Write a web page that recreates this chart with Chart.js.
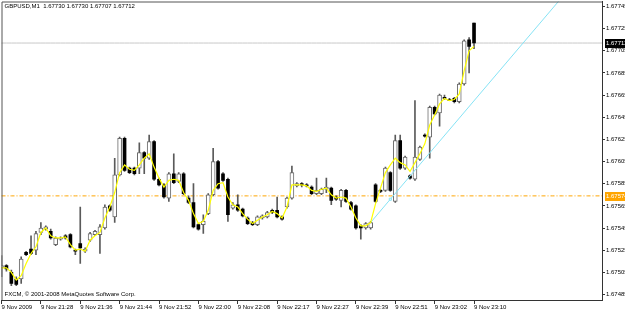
<!DOCTYPE html>
<html>
<head>
<meta charset="utf-8">
<script src="https://cdn.jsdelivr.net/npm/chart.js@4.4.0/dist/chart.umd.min.js"></script>
<style>
    html, body { margin: 0; padding: 0; background: #fff; }
    #wrap { width: 625px; height: 311px; position: relative; }
</style>
</head>
<body>
<div id="wrap"><canvas id="gbpChart"></canvas></div>
<script>
// GBPUSD M1 candles (oldest first)
const opens = [
    1.67509, 1.67511, 1.67505, 1.67499, 1.67499, 1.67523, 1.67526, 1.67525, 1.67541, 1.67544,
    1.67542, 1.67530, 1.67535, 1.67538, 1.67539, 1.67525, 1.67531, 1.67524, 1.67534, 1.67539,
    1.67539, 1.67545, 1.67565, 1.67555, 1.67593, 1.67626, 1.67599, 1.67599, 1.67599, 1.67613,
    1.67608, 1.67623, 1.67589, 1.67584, 1.67572, 1.67594, 1.67587, 1.67594, 1.67572, 1.67568,
    1.67548, 1.67548, 1.67558, 1.67575, 1.67605, 1.67594, 1.67589, 1.67563, 1.67566, 1.67562,
    1.67554, 1.67550, 1.67548, 1.67554, 1.67555, 1.67561, 1.67561, 1.67555, 1.67564, 1.67572,
    1.67583, 1.67585, 1.67584, 1.67582, 1.67576, 1.67576, 1.67580, 1.67581, 1.67573, 1.67570,
    1.67579, 1.67568, 1.67565, 1.67547, 1.67545, 1.67545, 1.67584, 1.67579, 1.67579, 1.67595,
    1.67569, 1.67624, 1.67599, 1.67592, 1.67589, 1.67607, 1.67629, 1.67627, 1.67654, 1.67649,
    1.67663, 1.67661, 1.67662, 1.67659, 1.67675, 1.67715, 1.67730
];
const highs = [
    1.67520, 1.67512, 1.67507, 1.67501, 1.67519, 1.67524, 1.67538, 1.67542, 1.67550, 1.67547,
    1.67544, 1.67537, 1.67537, 1.67539, 1.67540, 1.67526, 1.67564, 1.67527, 1.67541, 1.67543,
    1.67548, 1.67566, 1.67566, 1.67608, 1.67627, 1.67627, 1.67600, 1.67600, 1.67622, 1.67614,
    1.67629, 1.67624, 1.67590, 1.67585, 1.67595, 1.67612, 1.67595, 1.67595, 1.67574, 1.67585,
    1.67549, 1.67557, 1.67576, 1.67617, 1.67606, 1.67595, 1.67590, 1.67568, 1.67575, 1.67563,
    1.67555, 1.67551, 1.67556, 1.67557, 1.67560, 1.67562, 1.67573, 1.67556, 1.67573, 1.67601,
    1.67586, 1.67586, 1.67585, 1.67583, 1.67590, 1.67581, 1.67590, 1.67582, 1.67574, 1.67580,
    1.67580, 1.67569, 1.67566, 1.67548, 1.67550, 1.67551, 1.67585, 1.67580, 1.67600, 1.67596,
    1.67629, 1.67629, 1.67610, 1.67593, 1.67660, 1.67619, 1.67630, 1.67655, 1.67655, 1.67666,
    1.67665, 1.67662, 1.67663, 1.67676, 1.67715, 1.67717, 1.67730
];
const lows = [
    1.67501, 1.67506, 1.67493, 1.67493, 1.67495, 1.67520, 1.67521, 1.67521, 1.67539, 1.67543,
    1.67535, 1.67529, 1.67534, 1.67535, 1.67527, 1.67521, 1.67513, 1.67523, 1.67533, 1.67538,
    1.67522, 1.67544, 1.67560, 1.67550, 1.67592, 1.67596, 1.67594, 1.67593, 1.67594, 1.67594,
    1.67607, 1.67588, 1.67583, 1.67572, 1.67569, 1.67585, 1.67586, 1.67575, 1.67567, 1.67545,
    1.67543, 1.67540, 1.67557, 1.67574, 1.67580, 1.67587, 1.67551, 1.67562, 1.67560, 1.67555,
    1.67548, 1.67547, 1.67547, 1.67553, 1.67554, 1.67558, 1.67554, 1.67552, 1.67563, 1.67571,
    1.67582, 1.67582, 1.67582, 1.67575, 1.67575, 1.67575, 1.67577, 1.67566, 1.67570, 1.67564,
    1.67568, 1.67561, 1.67544, 1.67535, 1.67544, 1.67544, 1.67568, 1.67577, 1.67578, 1.67578,
    1.67568, 1.67598, 1.67598, 1.67589, 1.67588, 1.67606, 1.67627, 1.67608, 1.67647, 1.67637,
    1.67661, 1.67660, 1.67658, 1.67658, 1.67674, 1.67685, 1.67707
];
const closes = [
    1.67511, 1.67508, 1.67495, 1.67494, 1.67517, 1.67521, 1.67522, 1.67540, 1.67545, 1.67546,
    1.67536, 1.67536, 1.67536, 1.67536, 1.67528, 1.67524, 1.67527, 1.67526, 1.67540, 1.67542,
    1.67546, 1.67564, 1.67561, 1.67593, 1.67626, 1.67597, 1.67595, 1.67594, 1.67613, 1.67608,
    1.67623, 1.67589, 1.67584, 1.67573, 1.67594, 1.67586, 1.67594, 1.67576, 1.67568, 1.67546,
    1.67544, 1.67551, 1.67575, 1.67605, 1.67581, 1.67588, 1.67557, 1.67566, 1.67561, 1.67556,
    1.67549, 1.67548, 1.67555, 1.67556, 1.67559, 1.67559, 1.67555, 1.67553, 1.67572, 1.67595,
    1.67585, 1.67584, 1.67583, 1.67576, 1.67579, 1.67580, 1.67582, 1.67570, 1.67571, 1.67579,
    1.67569, 1.67562, 1.67545, 1.67545, 1.67549, 1.67550, 1.67569, 1.67578, 1.67599, 1.67579,
    1.67624, 1.67599, 1.67609, 1.67590, 1.67609, 1.67618, 1.67628, 1.67654, 1.67648, 1.67665,
    1.67662, 1.67660, 1.67659, 1.67675, 1.67714, 1.67709, 1.67712
];
// yellow moving average
const maValues = [
    1.67509, 1.67509, 1.67505, 1.67498, 1.67502, 1.67513, 1.67522, 1.67528, 1.67541, 1.67545,
    1.67538, 1.67536, 1.67536, 1.67537, 1.67530, 1.67525, 1.67526, 1.67524, 1.67534, 1.67538,
    1.67541, 1.67554, 1.67564, 1.67577, 1.67595, 1.67602, 1.67598, 1.67597, 1.67602, 1.67608,
    1.67612, 1.67600, 1.67590, 1.67582, 1.67588, 1.67589, 1.67588, 1.67577, 1.67570, 1.67558,
    1.67549, 1.67551, 1.67561, 1.67579, 1.67585, 1.67586, 1.67573, 1.67566, 1.67564, 1.67558,
    1.67553, 1.67549, 1.67552, 1.67555, 1.67557, 1.67560, 1.67558, 1.67554, 1.67564, 1.67584,
    1.67584, 1.67584, 1.67583, 1.67579, 1.67578, 1.67580, 1.67581, 1.67575, 1.67572, 1.67573,
    1.67572, 1.67564, 1.67554, 1.67547, 1.67547, 1.67550, 1.67567, 1.67581, 1.67595, 1.67602,
    1.67608, 1.67604, 1.67602, 1.67596, 1.67604, 1.67612, 1.67621, 1.67638, 1.67647, 1.67657,
    1.67662, 1.67660, 1.67661, 1.67666, 1.67687, 1.67705, 1.67709
];
// time labels, one every 8 bars starting at the first bar
const timeLabels = [
    '9 Nov 2009', '9 Nov 21:28', '9 Nov 21:36', '9 Nov 21:44', '9 Nov 21:52', '9 Nov 22:00',
    '9 Nov 22:08', '9 Nov 22:17', '9 Nov 22:27', '9 Nov 22:39', '9 Nov 22:51', '9 Nov 23:02',
    '9 Nov 23:10'
];
const priceTicks = [
    1.67485, 1.67505, 1.67525, 1.67545, 1.67565, 1.67585, 1.67605,
    1.67625, 1.67645, 1.67665, 1.67685, 1.67705, 1.67725, 1.67745
];
const labelEvery = 8;
const shiftBars = 26;          // empty space right of the last bar
const bidPrice = 1.67712;      // grey price line
const hLinePrice = 1.67574;    // orange dash-dot line
const trendBars = [75, 79, 114];
const trendPrices = [1.67550, 1.67571, 1.67754];
const headerText = 'GBPUSD,M1  1.67730 1.67730 1.67707 1.67712';
const footerText = 'FXCM, \u00a9 2001-2008 MetaQuotes Software Corp.';

const nBars = opens.length;
const allLabels = [];
for (let i = 0; i < nBars + shiftBars; i++) {
    allLabels.push(i < nBars && i % labelEvery === 0 ? timeLabels[i / labelEvery] : '');
}
const bodyUp = opens.map((o, i) => closes[i] >= o ? [o, closes[i]] : null);
const bodyDown = opens.map((o, i) => closes[i] < o ? [o, closes[i]] : null);
const wicks = lows.map((l, i) => [l, highs[i]]);
const trendData = allLabels.map(() => null);
trendBars.forEach((b, k) => { trendData[b] = trendPrices[k]; });

const FONT = '"Liberation Sans", Arial, sans-serif';

// frame, header texts and price boxes like the terminal draws them
const terminalOverlay = {
    id: 'terminalOverlay',
    afterDraw(chart) {
        const { ctx, chartArea: a } = chart;
        const y = chart.scales.y;
        ctx.save();
        ctx.strokeStyle = '#555';
        ctx.lineWidth = 1;
        ctx.beginPath();
        ctx.moveTo(a.left + 0.5, a.bottom);
        ctx.lineTo(a.left + 0.5, a.top + 0.5);
        ctx.lineTo(a.right, a.top + 0.5);
        ctx.stroke();

        ctx.fillStyle = '#000';
        ctx.font = '6px ' + FONT;
        ctx.textBaseline = 'middle';
        ctx.textAlign = 'left';
        ctx.fillText(headerText, a.left + 3, a.top + 5);
        ctx.fillText(footerText, a.left + 3, a.bottom - 6);

        const boxes = [
            { v: bidPrice, bg: '#000', fg: '#fff' },
            { v: hLinePrice, bg: '#ffa500', fg: '#fff' }
        ];
        boxes.forEach(b => {
            const py = Math.round(y.getPixelForValue(b.v));
            ctx.fillStyle = b.bg;
            ctx.fillRect(a.right + 3, py - 4, chart.width - a.right - 3, 9);
            ctx.fillStyle = b.fg;
            ctx.fillText(b.v.toFixed(5), a.right + 4, py + 0.5);
        });
        ctx.restore();
    }
};

const ctx = document.getElementById('gbpChart').getContext('2d');
const gbpChart = new Chart(ctx, {
    type: 'bar',
    data: {
        labels: allLabels,
        datasets: [{
            type: 'line',
            label: 'MA',
            data: maValues,
            borderColor: '#ffff00',
            borderWidth: 1.2,
            pointRadius: 0,
            tension: 0,
            order: 0
        }, {
            type: 'line',
            label: 'Trend',
            data: trendData,
            spanGaps: true,
            borderColor: '#86e3f5',
            borderWidth: 1,
            pointStyle: 'rect',
            pointRadius: ctx => ctx.dataIndex === trendBars[1] ? 1.5 : 0,
            pointBackgroundColor: '#fff',
            pointBorderColor: '#86e3f5',
            order: 0
        }, {
            label: 'Up',
            data: bodyUp,
            backgroundColor: '#fff',
            borderColor: '#6a6a6a',
            borderWidth: 1,
            borderSkipped: false,
            barThickness: 4,
            minBarLength: 1,
            grouped: false,
            order: 1
        }, {
            label: 'Down',
            data: bodyDown,
            backgroundColor: '#000',
            borderWidth: 0,
            barThickness: 3,
            minBarLength: 1,
            grouped: false,
            order: 1
        }, {
            label: 'Wick',
            data: wicks,
            backgroundColor: '#5a5a5a',
            borderWidth: 0,
            barThickness: 1,
            grouped: false,
            order: 2
        }, {
            type: 'line',
            label: 'Bid',
            data: allLabels.map(() => bidPrice),
            borderColor: '#c8c8c8',
            borderWidth: 1,
            pointRadius: 0,
            order: 5
        }, {
            type: 'line',
            label: 'Level',
            data: allLabels.map(() => hLinePrice),
            borderColor: '#ffa500',
            borderWidth: 1,
            borderDash: [4, 2, 1, 2],
            pointRadius: 0,
            order: 5
        }]
    },
    options: {
        responsive: true,
        maintainAspectRatio: false,
        animation: false,
        layout: { padding: { left: 1.5, top: 1.5, right: 0, bottom: 0 } },
        plugins: {
            legend: { display: false },
            tooltip: { enabled: false }
        },
        scales: {
            x: {
                type: 'category',
                offset: false,
                grid: {
                    offset: false,
                    drawOnChartArea: false,
                    tickLength: 4,
                    tickColor: c => allLabels[c.index] ? '#333' : 'rgba(0,0,0,0)'
                },
                border: { color: '#333' },
                ticks: {
                    autoSkip: false,
                    maxRotation: 0,
                    minRotation: 0,
                    align: 'start',
                    padding: 0,
                    color: '#000',
                    font: { family: FONT, size: 6 }
                },
                afterFit: s => { s.height = 11; s.paddingLeft = 0; s.paddingRight = 0; }
            },
            y: {
                type: 'linear',
                position: 'right',
                min: 1.6748,
                max: 1.677495,
                afterBuildTicks: s => { s.ticks = priceTicks.map(v => ({ value: v })); },
                grid: { drawOnChartArea: false, tickLength: 3, tickColor: '#333' },
                border: { color: '#333' },
                ticks: {
                    padding: 1,
                    color: '#000',
                    font: { family: FONT, size: 6 },
                    callback: v => v.toFixed(5)
                },
                afterFit: s => { s.width = 23; s.paddingTop = 0; s.paddingBottom = 0; }
            }
        }
    },
    plugins: [terminalOverlay]
});
</script>
</body>
</html>
